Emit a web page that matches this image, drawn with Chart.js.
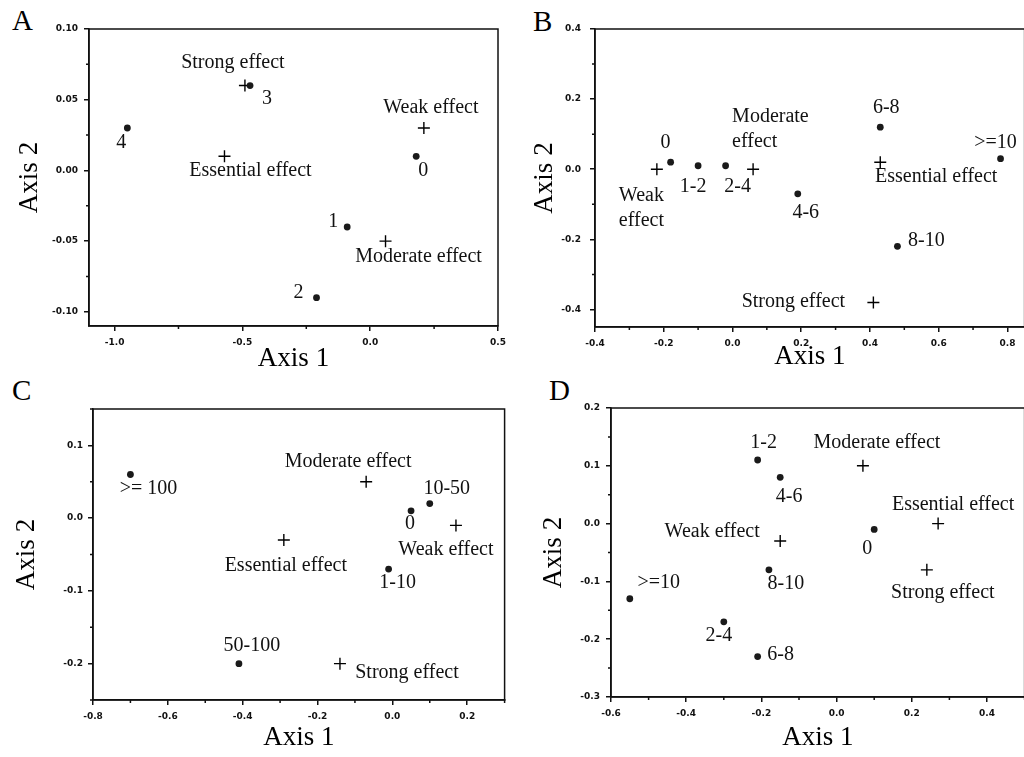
<!DOCTYPE html>
<html>
<head>
<meta charset="utf-8">
<script src="https://cdn.jsdelivr.net/npm/chart.js@4.4.1/dist/chart.umd.min.js"></script>
<style>
  html, body { margin: 0; padding: 0; background: #fff; overflow: hidden; }
  body { width: 1024px; height: 757px; position: relative; }
  canvas { position: absolute; }
  .tag { position: absolute; font: 29px 'Liberation Serif', serif; color: #000; line-height: 1; }
</style>
</head>
<body>
<div class="tag" style="left:12px;top:6px">A</div>
<div class="tag" style="left:533px;top:7px">B</div>
<div class="tag" style="left:12px;top:376px">C</div>
<div class="tag" style="left:549px;top:376px">D</div>
<canvas id="chartA" width="512" height="378" style="left:0;top:0"></canvas>
<canvas id="chartB" width="520" height="378" style="left:512px;top:0"></canvas>
<canvas id="chartC" width="512" height="379" style="left:0;top:378px"></canvas>
<canvas id="chartD" width="520" height="379" style="left:512px;top:378px"></canvas>
<script>
// panel A
const aGroups = ['0', '1', '2', '3', '4'];
const aGroupX = [0.18, -0.09, -0.21, -0.47, -0.95];
const aGroupY = [0.01, -0.04, -0.09, 0.06, 0.03];
const aEffects = ['Weak effect', 'Moderate effect', 'Strong effect', 'Essential effect'];
const aEffectX = [0.21, 0.06, -0.49, -0.57];
const aEffectY = [0.03, -0.05, 0.06, 0.01];
const aXTicks = ['-1.0', '-0.5', '0.0', '0.5'];
const aYTicks = ['-0.10', '-0.05', '0.00', '0.05', '0.10'];

// panel B
const bGroups = ['0', '1-2', '2-4', '4-6', '6-8', '8-10', '>=10'];
const bGroupX = [-0.18, -0.10, -0.02, 0.19, 0.43, 0.48, 0.78];
const bGroupY = [0.02, 0.01, 0.01, -0.07, 0.12, -0.22, 0.03];
const bEffects = ['Weak effect', 'Moderate effect', 'Strong effect', 'Essential effect'];
const bEffectX = [-0.22, 0.06, 0.41, 0.43];
const bEffectY = [0.00, 0.00, -0.38, 0.02];
const bXTicks = ['-0.4', '-0.2', '0.0', '0.2', '0.4', '0.6', '0.8'];
const bYTicks = ['-0.4', '-0.2', '0.0', '0.2', '0.4'];

// panel C
const cGroups = ['0', '1-10', '10-50', '50-100', '>= 100'];
const cGroupX = [0.05, -0.01, 0.10, -0.41, -0.70];
const cGroupY = [0.01, -0.07, 0.02, -0.20, 0.06];
const cEffects = ['Weak effect', 'Moderate effect', 'Strong effect', 'Essential effect'];
const cEffectX = [0.17, -0.07, -0.14, -0.29];
const cEffectY = [-0.01, 0.05, -0.20, -0.03];
const cXTicks = ['-0.8', '-0.6', '-0.4', '-0.2', '0.0', '0.2'];
const cYTicks = ['-0.2', '-0.1', '0.0', '0.1'];

// panel D
const dGroups = ['0', '1-2', '2-4', '4-6', '6-8', '8-10', '>=10'];
const dGroupX = [0.10, -0.21, -0.30, -0.15, -0.21, -0.18, -0.55];
const dGroupY = [-0.01, 0.11, -0.17, 0.08, -0.23, -0.08, -0.13];
const dEffects = ['Weak effect', 'Moderate effect', 'Strong effect', 'Essential effect'];
const dEffectX = [-0.15, 0.07, 0.24, 0.27];
const dEffectY = [-0.03, 0.10, -0.08, 0.00];
const dXTicks = ['-0.6', '-0.4', '-0.2', '0.0', '0.2', '0.4'];
const dYTicks = ['-0.3', '-0.2', '-0.1', '0.0', '0.1', '0.2'];

// where each name sits relative to its marker (px)
const placeA = {
  '0': [7, 14], '1': [-14, -5], '2': [-18, -5], '3': [17, 13], '4': [-6, 15],
  'Weak effect': [7, -20], 'Moderate effect': [33, 16], 'Strong effect': [-12, -23], 'Essential effect': [26, 14]
};
const placeB = {
  '0': [-5, -19], '1-2': [-5, 21], '2-4': [12, 21], '4-6': [8, 19], '6-8': [6, -19], '8-10': [29, -6], '>=10': [-5, -16],
  'Weak effect': [-38, 39, 'wrap'], 'Moderate effect': [-21, -40, 'wrap'], 'Strong effect': [-80, -1], 'Essential effect': [56, 15]
};
const placeC = {
  '0': [-1, 13], '1-10': [9, 14], '10-50': [17, -15], '50-100': [13, -18], '>= 100': [18, 14],
  'Weak effect': [-10, 24], 'Moderate effect': [-18, -20], 'Strong effect': [67, 9], 'Essential effect': [2, 26]
};
const placeD = {
  '0': [-7, 19], '1-2': [6, -17], '2-4': [-5, 14], '4-6': [9, 19], '6-8': [23, -2], '8-10': [17, 14], '>=10': [29, -16],
  'Weak effect': [-68, -9], 'Moderate effect': [14, -23], 'Strong effect': [16, 23], 'Essential effect': [15, -19]
};

const INK = '#111';

const frame = {
  id: 'frame',
  afterDraw(chart) {
    const {ctx, chartArea: a, scales} = chart;
    ctx.save();
    ctx.strokeStyle = INK;
    ctx.lineWidth = 1.5;
    ctx.strokeRect(a.left, a.top, a.right - a.left, a.bottom - a.top);
    const minors = s => {
      const v = s.ticks.map(t => t.value);
      const half = (v[1] - v[0]) / 2;
      const out = [];
      for (let i = 0; i < v.length - 1; i++) out.push(v[i] + half);
      if (v[0] - half >= s.min - 1e-9) out.push(v[0] - half);
      if (v[v.length - 1] + half <= s.max + 1e-9) out.push(v[v.length - 1] + half);
      return out;
    };
    ctx.beginPath();
    minors(scales.x).forEach(val => {
      const px = scales.x.getPixelForValue(val);
      ctx.moveTo(px, a.bottom);
      ctx.lineTo(px, a.bottom + 3);
    });
    minors(scales.y).forEach(val => {
      const py = scales.y.getPixelForValue(val);
      ctx.moveTo(a.left - 3, py);
      ctx.lineTo(a.left, py);
    });
    ctx.stroke();
    ctx.restore();
  }
};

const pointNames = {
  id: 'pointNames',
  afterDatasetsDraw(chart, args, opts) {
    const ctx = chart.ctx;
    const place = opts.place;
    ctx.save();
    ctx.font = '20px "Liberation Serif", serif';
    ctx.fillStyle = INK;
    ctx.textBaseline = 'middle';
    chart.data.datasets.forEach((ds, di) => {
      const meta = chart.getDatasetMeta(di);
      ds.names.forEach((name, i) => {
        const pt = meta.data[i];
        const p = place[name];
        if (!pt || !p) return;
        if (p[2] === 'wrap') {
          const lines = name.split(' ');
          ctx.textAlign = 'left';
          const y0 = pt.y + p[1] - (lines.length - 1) * 25 / 2;
          lines.forEach((ln, k) => ctx.fillText(ln, pt.x + p[0], y0 + k * 25));
        } else {
          ctx.textAlign = 'center';
          ctx.fillText(name, pt.x + p[0], pt.y + p[1]);
        }
      });
    });
    ctx.restore();
  }
};

function axis(labels, min, max, opt) {
  return {
    type: 'linear',
    position: opt.position,
    min: min,
    max: max,
    afterBuildTicks: s => { s.ticks = labels.map(t => ({value: parseFloat(t)})); },
    afterFit: s => { if (opt.width) s.width = opt.width; if (opt.height) s.height = opt.height; },
    ticks: {
      autoSkip: false,
      maxRotation: 0,
      padding: opt.tickPad,
      color: INK,
      font: {family: 'DejaVu Sans', size: 9, weight: 'bold'},
      callback: (v, i) => labels[i]
    },
    grid: {display: true, drawOnChartArea: false, drawTicks: true, tickLength: 5, color: INK, lineWidth: 1.5},
    border: {display: true, color: INK, width: 1.5},
    title: {
      display: true,
      text: opt.title,
      color: '#000',
      font: {family: 'Liberation Serif', size: 27},
      padding: {top: opt.titlePad, bottom: opt.titlePad}
    }
  };
}

function makePanel(id, p) {
  const cv = document.getElementById(id);
  new Chart(cv, {
    type: 'scatter',
    data: {
      datasets: [
        {
          names: p.groups,
          data: p.gx.map((x, i) => ({x: x, y: p.gy[i]})),
          pointStyle: 'circle',
          pointRadius: 3.4,
          backgroundColor: '#1a1a1a',
          borderWidth: 0
        },
        {
          names: p.effects,
          data: p.ex.map((x, i) => ({x: x, y: p.ey[i]})),
          pointStyle: 'cross',
          pointRadius: 6,
          borderColor: '#000',
          borderWidth: 1.4
        }
      ]
    },
    options: {
      responsive: false,
      animation: false,
      devicePixelRatio: 1,
      events: [],
      layout: {padding: {left: 0, top: p.area.top, right: cv.width - p.area.right, bottom: 0}},
      plugins: {
        legend: {display: false},
        tooltip: {enabled: false},
        pointNames: {place: p.place}
      },
      scales: {
        x: axis(p.xTicks, p.xRange[0], p.xRange[1],
          {position: 'bottom', height: cv.height - p.area.bottom, tickPad: 6, title: 'Axis 1', titlePad: p.xTitlePad}),
        y: axis(p.yTicks, p.yRange[0], p.yRange[1],
          {position: 'left', width: p.area.left, tickPad: p.yTickPad, title: 'Axis 2', titlePad: p.yTitlePad})
      }
    },
    plugins: [frame, pointNames]
  });
}

makePanel('chartA', {
  groups: aGroups, gx: aGroupX, gy: aGroupY, effects: aEffects, ex: aEffectX, ey: aEffectY,
  xTicks: aXTicks, yTicks: aYTicks, xRange: [-1.1, 0.5], yRange: [-0.11, 0.10], place: placeA,
  area: {left: 89, top: 29, right: 498, bottom: 326}, yTickPad: 6, yTitlePad: 14, xTitlePad: 3
});
makePanel('chartB', {
  groups: bGroups, gx: bGroupX, gy: bGroupY, effects: bEffects, ex: bEffectX, ey: bEffectY,
  xTicks: bXTicks, yTicks: bYTicks, xRange: [-0.4, 0.85], yRange: [-0.45, 0.4], place: placeB,
  area: {left: 83, top: 29, right: 513, bottom: 327}, yTickPad: 9, yTitlePad: 17, xTitlePad: 5
});
makePanel('chartC', {
  groups: cGroups, gx: cGroupX, gy: cGroupY, effects: cEffects, ex: cEffectX, ey: cEffectY,
  xTicks: cXTicks, yTicks: cYTicks, xRange: [-0.8, 0.3], yRange: [-0.25, 0.15], place: placeC,
  area: {left: 93, top: 31, right: 509, bottom: 322}, yTickPad: 5, yTitlePad: 11, xTitlePad: 3
});
makePanel('chartD', {
  groups: dGroups, gx: dGroupX, gy: dGroupY, effects: dEffects, ex: dEffectX, ey: dEffectY,
  xTicks: dXTicks, yTicks: dYTicks, xRange: [-0.6, 0.5], yRange: [-0.3, 0.2], place: placeD,
  area: {left: 99, top: 30, right: 517, bottom: 319}, yTickPad: 6, yTitlePad: 26, xTitlePad: 3
});
</script>
</body>
</html>
